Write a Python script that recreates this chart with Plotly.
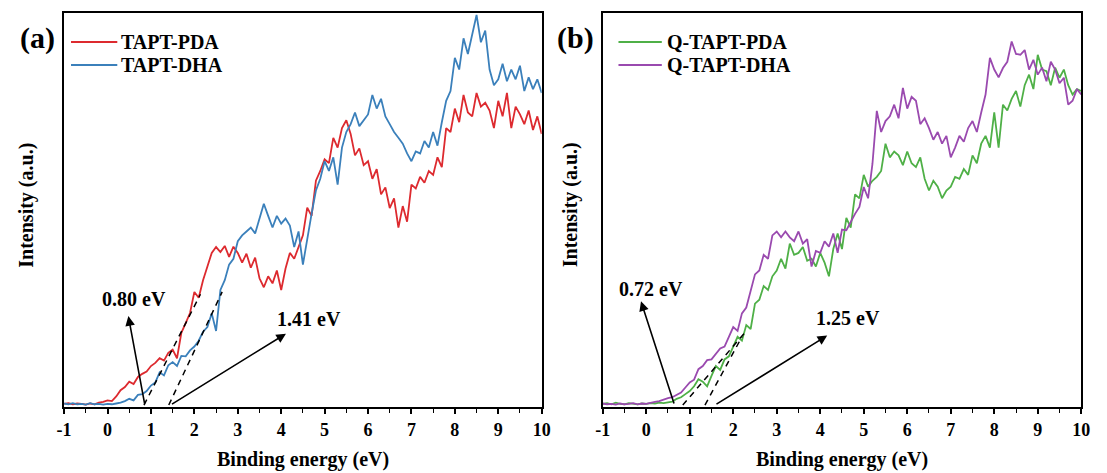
import plotly.graph_objects as go

energy = [round(-1.0 + 0.1 * i, 1) for i in range(111)]

tapt_pda = [
    0.3, 0.5, 0.2, 0.4, 0.3, 0.1, 0.4, 0.2, 0.6, 0.8,
    1.2, 1.0, 2.2, 3.8, 4.6, 6.0, 5.4, 7.2, 8.0, 8.6,
    10.0, 10.8, 12.0, 11.4, 13.4, 14.2, 12.0, 18.5, 21.0, 23.6,
    29.0, 27.5, 32.0, 35.5, 39.0, 40.5, 39.2, 40.8, 38.0, 40.6,
    39.0, 36.5, 38.8, 35.2, 37.8, 32.5, 30.2, 33.0, 31.2, 34.5,
    29.5, 35.0, 39.0, 37.5, 40.5, 43.5, 50.6, 48.5, 57.5, 60.0,
    63.0, 62.0, 68.5, 66.0, 71.0, 73.0, 69.5, 64.0, 65.8, 61.5,
    62.5, 58.0, 60.5, 54.0, 55.8, 50.5, 53.0, 45.5, 51.0, 47.0,
    56.5, 55.5, 58.5, 57.0, 60.0, 59.0, 63.5, 61.0, 71.0, 70.0,
    76.0, 72.5, 79.5, 75.0, 74.0, 80.0, 76.5, 77.5, 75.5, 71.0,
    78.0, 74.0, 80.0, 71.0, 76.5, 74.5, 72.0, 75.5, 70.5, 74.0,
    69.5,
]

tapt_dha = [
    0.4, 0.2, 0.5, 0.2, 0.3, 0.1, 0.5, 0.2, 0.3, 0.1,
    0.3, 0.2, 0.4, 0.6, 1.0, 1.6, 1.2, 2.6, 2.8, 3.6,
    5.0, 5.8, 8.4, 7.6, 10.2, 11.0, 10.0, 12.6, 12.5, 14.0,
    15.0, 16.5, 18.8, 20.0, 23.5, 19.0, 29.5, 32.0, 36.0, 37.5,
    42.0, 43.5, 44.5, 45.5, 44.0, 47.5, 51.6, 48.5, 45.5, 48.5,
    46.5, 47.8, 46.0, 40.5, 44.5, 36.0, 43.0, 49.0, 55.0, 58.0,
    62.5, 60.0, 63.5, 56.5, 66.0, 70.0, 72.0, 75.0, 71.5, 73.0,
    74.5, 79.5, 76.0, 78.5, 74.0, 72.0, 70.0, 68.5, 67.0, 64.5,
    62.5, 65.0, 64.5, 67.7, 66.0, 70.0, 66.5, 72.5, 78.0, 80.5,
    89.0, 86.0, 94.0, 90.0, 95.0, 100.0, 93.0, 96.0, 86.0, 82.0,
    83.5, 87.5, 83.0, 86.0, 83.5, 87.0, 80.5, 84.0, 81.0, 83.5,
    80.0,
]

q_tapt_pda = [
    0.3, 0.5, 0.2, 0.6, 0.3, 0.2, 0.5, 0.3, 0.2, 0.4,
    0.3, 0.5, 0.4, 0.6, 0.5, 0.7, 0.9, 1.6, 2.0, 2.8,
    3.6, 4.8, 6.6, 6.0, 4.8, 7.5, 10.0, 9.0, 11.7, 12.5,
    15.0, 17.5, 16.5, 20.5, 19.5, 26.0, 27.0, 30.5, 29.5, 33.0,
    34.5, 37.5, 35.0, 41.4, 38.5, 39.0, 40.5, 37.0, 37.5, 35.5,
    39.0, 36.5, 33.0, 40.0, 44.0, 40.0, 48.0, 45.5, 54.0, 53.0,
    59.0, 56.0, 57.5, 58.5, 60.0, 67.0, 63.5, 65.0, 64.0, 61.5,
    65.0, 62.0, 61.0, 63.5, 58.0, 55.0, 57.5, 56.0, 53.0, 55.0,
    56.0, 58.5, 58.0, 60.5, 59.0, 64.0, 62.0, 67.0, 69.0, 66.0,
    75.0, 66.0, 77.0, 75.5, 78.5, 80.5, 76.5, 82.0, 84.7, 81.0,
    89.8, 86.0, 85.6, 82.0, 86.5, 83.9, 86.0, 82.0, 79.6, 81.0,
    80.5,
]

q_tapt_dha = [
    0.4, 0.2, 0.3, 0.1, 0.4, 0.2, 0.3, 0.5, 0.2, 0.4,
    0.3, 0.6, 0.8, 1.0, 1.5, 1.8, 2.0, 2.6, 3.2, 4.5,
    5.8, 6.5, 9.2, 10.0, 11.5, 11.7, 13.0, 14.5, 15.0, 17.5,
    20.0, 19.0, 23.5, 25.0, 29.5, 33.5, 34.5, 38.5, 37.5, 43.5,
    44.5, 43.0, 44.5, 43.0, 42.0, 44.5, 41.4, 42.5, 35.5, 39.5,
    39.0, 42.0, 40.6, 44.0, 39.0, 45.0, 44.8, 47.0, 49.0, 50.8,
    55.9, 53.0, 61.8, 75.4, 70.0, 72.8, 74.0, 77.0, 73.5, 81.3,
    76.0, 79.0, 78.0, 72.0, 73.5, 71.0, 68.0, 70.0, 67.0, 69.0,
    63.5, 66.0, 69.0, 67.5, 71.0, 72.8, 70.0, 75.0, 79.6, 89.0,
    86.0, 84.0, 86.4, 88.0, 93.2, 90.0, 89.8, 91.0, 86.0, 88.5,
    84.7, 86.5, 83.0, 88.0, 86.0, 82.5, 83.9, 77.0, 78.0, 81.0,
    79.6,
]

# tangent (onset) lines: [x_start, x_end], [y_start, y_end]
tangent_a1_x, tangent_a1_y = [0.84, 2.14], [0.0, 28.4]
tangent_a2_x, tangent_a2_y = [1.41, 2.64], [0.0, 29.0]
tangent_b1_x, tangent_b1_y = [0.84, 2.30], [0.0, 19.0]
tangent_b2_x, tangent_b2_y = [1.35, 2.20], [0.0, 17.5]

onset_labels_a = ["0.80 eV", "1.41 eV"]
onset_labels_b = ["0.72 eV", "1.25 eV"]

x_ticks = list(range(-1, 11))

FONT = "Liberation Serif, Times New Roman, serif"
RED = "#dd2a2f"
BLUE = "#3b80bb"
GREEN = "#4fb047"
PURPLE = "#9a4aaf"

W, H = 1107, 473


def px_x(p):
    return p / W


def px_y(p):
    return 1 - p / H


series = [
    ("TAPT-PDA", tapt_pda, RED, "x", "y"),
    ("TAPT-DHA", tapt_dha, BLUE, "x", "y"),
    ("Q-TAPT-PDA", q_tapt_pda, GREEN, "x2", "y2"),
    ("Q-TAPT-DHA", q_tapt_dha, PURPLE, "x2", "y2"),
]

fig = go.Figure()
for name, vals, col, xa, ya in series:
    fig.add_trace(go.Scatter(x=energy, y=vals, mode="lines", name=name, showlegend=False,
                             line=dict(color=col, width=1.8), xaxis=xa, yaxis=ya))

for tx, ty, xa, ya in [(tangent_a1_x, tangent_a1_y, "x", "y"), (tangent_a2_x, tangent_a2_y, "x", "y"),
                       (tangent_b1_x, tangent_b1_y, "x2", "y2"), (tangent_b2_x, tangent_b2_y, "x2", "y2")]:
    fig.add_trace(go.Scatter(x=tx, y=ty, mode="lines", showlegend=False,
                             line=dict(color="black", width=1.5, dash="6px,5px"), xaxis=xa, yaxis=ya))

y_dom = [px_y(407), px_y(13)]
xa_dom = [px_x(57), px_x(542)]
xb_dom = [px_x(604), px_x(1090)]

axis_common = dict(
    range=[-1, 10], tickmode="array", tickvals=x_ticks, ticktext=[str(t) for t in x_ticks],
    ticks="outside", ticklen=5, tickwidth=1.5, tickcolor="black",
    minor=dict(dtick=0.5, ticks="outside", ticklen=4, tickwidth=1.2, tickcolor="black"),
    showline=True, linecolor="black", linewidth=1.8, mirror=True, showgrid=False, zeroline=False,
    tickfont=dict(family=FONT, size=18, color="black", weight="bold"),
)
yaxis_common = dict(
    range=[-0.5, 100.5], showticklabels=False, ticks="", showline=True, linecolor="black",
    linewidth=1.8, mirror=True, showgrid=False, zeroline=False,
)

fig.update_layout(
    width=W, height=H, margin=dict(l=0, r=0, t=0, b=0),
    paper_bgcolor="white", plot_bgcolor="white", showlegend=False,
    xaxis=dict(domain=xa_dom, anchor="y", **axis_common),
    yaxis=dict(domain=y_dom, anchor="x", **yaxis_common),
    xaxis2=dict(domain=xb_dom, anchor="y2", **axis_common),
    yaxis2=dict(domain=y_dom, anchor="x2", **yaxis_common),
)

title_font = dict(family=FONT, size=20, color="black", weight="bold")
legend_font = dict(family=FONT, size=20, color="black", weight="bold")
annos = []
shapes = []

# legends (line sample + text), drawn in pixel positions
legend_rows = [(0, 42), (1, 65), (2, 42), (3, 65)]
for idx, ypx in legend_rows:
    name, _, col, xa, _ = series[idx]
    x0, x1, xt = (64, 111, 113) if xa == "x" else (620, 664, 667)
    shapes.append(dict(type="line", xref="paper", yref="paper", x0=px_x(x0), x1=px_x(x1),
                       y0=px_y(ypx), y1=px_y(ypx), line=dict(color=col, width=2)))
    annos.append(dict(text=name, x=px_x(xt), y=px_y(ypx), xref="paper", yref="paper", showarrow=False,
                      xanchor="left", yanchor="middle", font=legend_font))

# panel labels
annos.append(dict(text="(a)", x=px_x(30), y=px_y(38), xref="paper", yref="paper", showarrow=False,
                  xanchor="center", yanchor="middle", font=dict(family=FONT, size=30, color="black", weight="bold")))
annos.append(dict(text="(b)", x=px_x(576), y=px_y(38), xref="paper", yref="paper", showarrow=False,
                  xanchor="center", yanchor="middle", font=dict(family=FONT, size=30, color="black", weight="bold")))
# axis titles
for cx in [(57 + 542) / 2, (604 + 1090) / 2]:
    annos.append(dict(text="Binding energy (eV)", x=px_x(cx), y=px_y(459), xref="paper", yref="paper",
                      showarrow=False, xanchor="center", yanchor="middle", font=title_font))
for cx in [18, 571]:
    annos.append(dict(text="Intensity (a.u.)", x=px_x(cx), y=px_y(205), xref="paper", yref="paper",
                      showarrow=False, xanchor="center", yanchor="middle", textangle=-90, font=title_font))

lab_font = dict(family=FONT, size=20, color="black", weight="bold")
arrow_style = dict(showarrow=True, arrowhead=2, arrowsize=1.2, arrowwidth=1.6, arrowcolor="black", text="")
# panel a arrows and labels
annos.append(dict(x=0.48, y=22.8, ax=0.86, ay=0, xref="x", yref="y", axref="x", ayref="y", **arrow_style))
annos.append(dict(x=0.61, y=27.2, xref="x", yref="y", text=onset_labels_a[0], showarrow=False, font=lab_font))
annos.append(dict(x=4.11, y=18.3, ax=1.45, ay=0, xref="x", yref="y", axref="x", ayref="y", **arrow_style))
annos.append(dict(x=4.64, y=22.0, xref="x", yref="y", text=onset_labels_a[1], showarrow=False, font=lab_font))
# panel b arrows and labels
annos.append(dict(x=-0.12, y=26.6, ax=0.65, ay=0, xref="x2", yref="y2", axref="x2", ayref="y2", **arrow_style))
annos.append(dict(x=0.11, y=29.7, xref="x2", yref="y2", text=onset_labels_b[0], showarrow=False, font=lab_font))
annos.append(dict(x=4.16, y=17.8, ax=1.58, ay=0, xref="x2", yref="y2", axref="x2", ayref="y2", **arrow_style))
annos.append(dict(x=4.63, y=22.3, xref="x2", yref="y2", text=onset_labels_b[1], showarrow=False, font=lab_font))

fig.update_layout(annotations=annos, shapes=shapes)
fig.write_html("out.html")
